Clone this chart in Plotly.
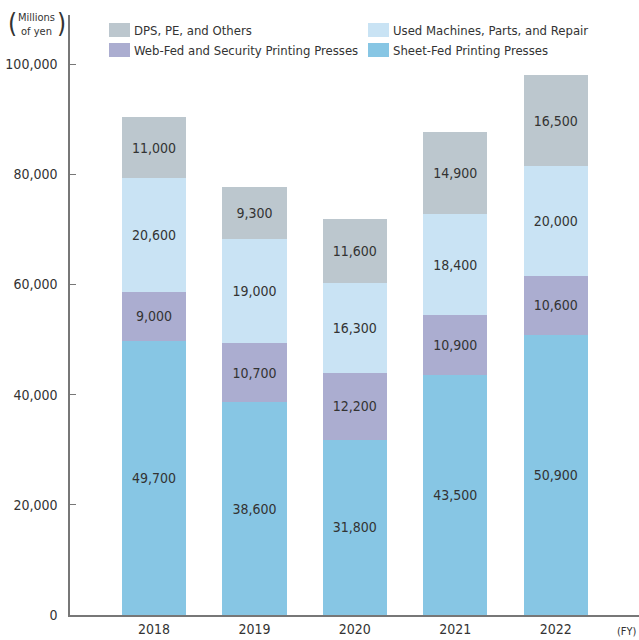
import plotly.graph_objects as go

# Fiscal years and segment sales (millions of yen)
years = ["2018", "2019", "2020", "2021", "2022"]
sheet_fed = [49700, 38600, 31800, 43500, 50900]
web_fed = [9000, 10700, 12200, 10900, 10600]
used_machines = [20600, 19000, 16300, 18400, 20000]
dps_others = [11000, 9300, 11600, 14900, 16500]

y_ticks = [0, 20000, 40000, 60000, 80000, 100000]
y_tick_labels = ["0", "20,000", "40,000", "60,000", "80,000", "100,000"]

series = [
    ("Sheet-Fed Printing Presses", sheet_fed, "#87c6e4"),
    ("Web-Fed and Security Printing Presses", web_fed, "#abadd0"),
    ("Used Machines, Parts, and Repair", used_machines, "#c9e3f4"),
    ("DPS, PE, and Others", dps_others, "#bcc7ce"),
]

FONT = "DejaVu Sans Condensed, Liberation Sans Narrow, sans-serif"
TEXT = "#333333"
AXIS = "#777777"

W, H = 639, 640
ML, MR, MT, MB = 70, 0, 15, 25


def px(x):
    return (x - ML) / (W - ML - MR)


def py(y):
    return (H - MB - y) / (H - MT - MB)


fig = go.Figure()
for name, vals, color in series:
    fig.add_trace(go.Bar(
        x=years, y=vals, name=name,
        marker=dict(color=color, line=dict(width=0)),
        width=0.64,
        text=[f"{v:,}" for v in vals],
        textposition="inside", insidetextanchor="middle",
        textangle=0,
        textfont=dict(family=FONT, size=14, color=TEXT),
        showlegend=False,
    ))

# Legend drawn as swatches and labels in two columns
legend_items = [
    ("DPS, PE, and Others", "#bcc7ce", 109, 30),
    ("Used Machines, Parts, and Repair", "#c9e3f4", 368, 30),
    ("Web-Fed and Security Printing Presses", "#abadd0", 109, 50),
    ("Sheet-Fed Printing Presses", "#87c6e4", 368, 50),
]
shapes = []
annotations = []
for label, color, lx, ly in legend_items:
    shapes.append(dict(type="rect", xref="paper", yref="paper",
                       x0=px(lx), x1=px(lx + 21), y0=py(ly + 7), y1=py(ly - 7),
                       fillcolor=color, line=dict(width=0)))
    annotations.append(dict(xref="paper", yref="paper", x=px(lx + 23), y=py(ly),
                            text=label, showarrow=False, xanchor="left", yanchor="middle",
                            font=dict(family=FONT, size=13, color=TEXT)))

# Unit label with tall parentheses
annotations.append(dict(xref="paper", yref="paper", x=px(36), y=py(24),
                        text="Millions<br>of yen", showarrow=False,
                        xanchor="center", yanchor="middle", align="center",
                        font=dict(family=FONT, size=11, color=TEXT)))
annotations.append(dict(xref="paper", yref="paper", x=px(12), y=py(23),
                        text="(", showarrow=False, xanchor="center", yanchor="middle",
                        font=dict(family="DejaVu Sans ExtraLight, " + FONT, size=26, color=TEXT)))
annotations.append(dict(xref="paper", yref="paper", x=px(61), y=py(23),
                        text=")", showarrow=False, xanchor="center", yanchor="middle",
                        font=dict(family="DejaVu Sans ExtraLight, " + FONT, size=26, color=TEXT)))
annotations.append(dict(xref="paper", yref="paper", x=px(627), y=py(631),
                        text="(FY)", showarrow=False, xanchor="center", yanchor="middle",
                        font=dict(family=FONT, size=11, color=TEXT)))

fig.update_layout(
    width=W, height=H,
    margin=dict(l=ML, r=MR, t=MT, b=MB),
    paper_bgcolor="white", plot_bgcolor="white",
    barmode="stack",
    shapes=shapes,
    annotations=annotations,
    font=dict(family=FONT, size=14, color=TEXT),
    uniformtext=dict(mode=False),
)
fig.update_xaxes(
    type="category", range=[-0.837, 4.83],
    showline=True, linecolor=AXIS, linewidth=1.5,
    showgrid=False, ticks="", zeroline=False,
    tickfont=dict(family=FONT, size=14, color=TEXT),
)
fig.update_yaxes(
    range=[0, 108900],
    tickvals=y_ticks, ticktext=y_tick_labels,
    showline=True, linecolor=AXIS, linewidth=1.5,
    ticks="inside", ticklen=6, tickcolor=AXIS, tickwidth=1.2,
    showgrid=False, zeroline=False,
    tickfont=dict(family=FONT, size=14, color=TEXT),
    ticklabelstandoff=8,
)

fig.write_html("out.html")
